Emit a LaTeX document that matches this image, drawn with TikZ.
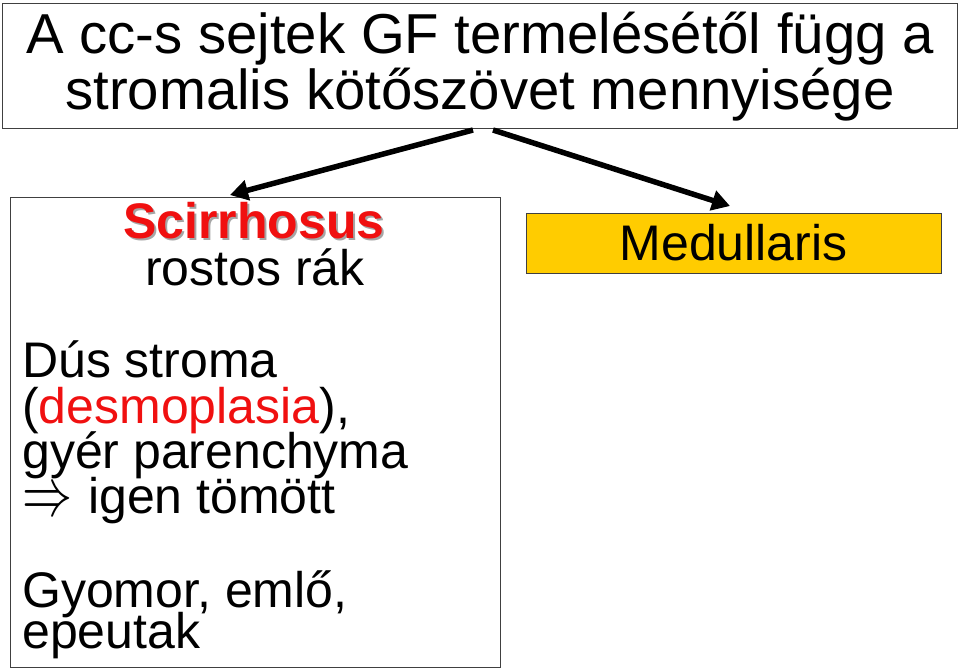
\documentclass[tikz,border=0pt]{standalone}
\usepackage{fontspec}
\setmainfont{Liberation Sans}
\usetikzlibrary{arrows.meta}
\definecolor{gold}{HTML}{FFCC00}
\definecolor{redtxt}{HTML}{F01010}
\begin{document}
\begin{tikzpicture}[x=1pt,y=-1pt,
  box/.style={draw=black!75,line width=1.2pt},
  txt/.style={inner sep=0pt,font=\fontsize{50}{55}\selectfont},
  ttl/.style={inner sep=0pt,font=\fontsize{56.3}{60}\selectfont,anchor=base},
  conn/.style={line width=5.5pt,-{Triangle[length=18pt,width=20pt]}}]
\useasboundingbox (0,0) rectangle (960,670);
\node[box,minimum width=955pt,minimum height=125pt,anchor=north west] (title) at (2,3) {};
\node[ttl] (t1) at (480,53) {A cc-s sejtek GF termelésétől függ a};
\node[ttl] (t2) at (480,109) {stromalis kötőszövet mennyisége};
\node[box,minimum width=490pt,minimum height=470pt,anchor=north west] (left) at (10,197) {};
\node[box,fill=gold,minimum width=415pt,minimum height=60pt,anchor=north west] (med) at (526,213) {};
\node[txt,anchor=base] (medt) at (733.5,260) {Medullaris};
\node[txt,anchor=base,text=black!35,font=\fontsize{50}{55}\selectfont\bfseries] (scs) at (256,240) {Scirrhosus};
\node[txt,anchor=base,text=redtxt,font=\fontsize{50}{55}\selectfont\bfseries] (sc) at (254,238) {Scirrhosus};
\node[txt,anchor=base] (rr) at (255,285) {rostos rák};
\node[txt,anchor=base west] (l1) at (22,377) {Dús stroma};
\node[txt,anchor=base west] (l2) at (22,423) {(\textcolor{redtxt}{desmoplasia}),};
\node[txt,anchor=base west] (l3) at (22,468) {gyér parenchyma};
\node[txt,anchor=base west] (l4) at (22,513) {\raisebox{-2pt}{\resizebox{50pt}{25pt}{$\Rightarrow$}}\hspace{16pt}igen tömött};
\node[txt,anchor=base west] (l5) at (22,607) {Gyomor, emlő,};
\node[txt,anchor=base west] (l6) at (22,648) {epeutak};
\coordinate (a1) at (473,130);
\coordinate (a2) at (493,130);
\coordinate (e1) at (230,195);
\coordinate (e2) at (730,206);
\draw[conn] (a1) -- (e1);
\draw[conn] (a2) -- (e2);
\end{tikzpicture}
\end{document}
